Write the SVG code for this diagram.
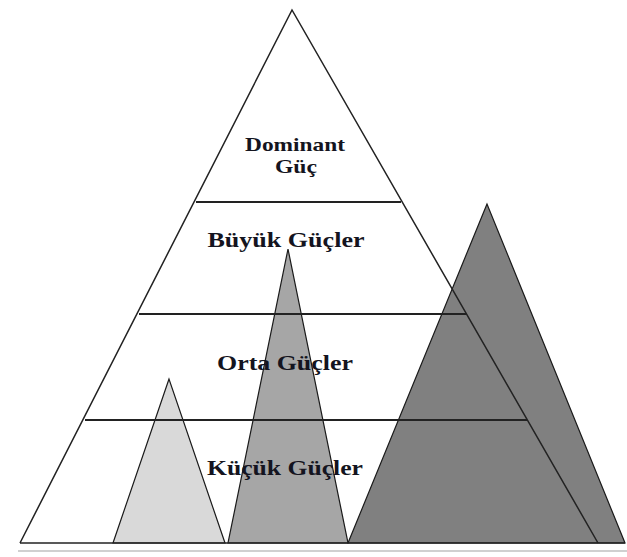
<svg xmlns="http://www.w3.org/2000/svg" width="627" height="557" viewBox="0 0 627 557">
<style>
.tri{stroke:#1a1a1a;stroke-width:1.2;stroke-linejoin:miter}
.edge{fill:none;stroke:#222;stroke-width:1.5}
.band{stroke:#222;stroke-width:2}
.lbl{font-family:"Liberation Serif","Times New Roman",serif;font-weight:bold;fill:#141420;text-anchor:middle}
</style>
<rect width="627" height="557" fill="#fff"/>
<g id="small-powers-triangle">
<polygon class="tri" points="169,379 113,543 225,543" fill="#d9d9d9"/>
</g>
<g id="middle-powers-triangle">
<polygon class="tri" points="288,249 228,543 348,543" fill="#a6a6a6"/>
</g>
<g id="great-powers-triangle">
<polygon class="tri" points="487,204 348,543 625,543" fill="#808080"/>
</g>
<g id="pyramid">
<polyline class="edge" points="20,543 292,10 598,543"/>
<line class="edge" x1="20" y1="543" x2="625" y2="543"/>
<line class="band" x1="196" y1="202" x2="401" y2="202"/>
<line class="band" x1="139" y1="314" x2="467" y2="314"/>
<line class="band" x1="85" y1="420" x2="527" y2="420"/>
</g>
<line x1="18" y1="551" x2="627" y2="551" stroke="#d0d0d0" stroke-width="2"/>
<g id="labels">
<text class="lbl" x="295" y="151" font-size="19" textLength="100" lengthAdjust="spacingAndGlyphs">Dominant</text>
<text class="lbl" x="296" y="173" font-size="19" textLength="42" lengthAdjust="spacingAndGlyphs">Güç</text>
<text class="lbl" x="286" y="247" font-size="22" textLength="157" lengthAdjust="spacingAndGlyphs">Büyük Güçler</text>
<text class="lbl" x="285" y="370" font-size="22" textLength="136" lengthAdjust="spacingAndGlyphs">Orta Güçler</text>
<text class="lbl" x="285" y="475" font-size="22" textLength="156" lengthAdjust="spacingAndGlyphs">Küçük Güçler</text>
</g>
</svg>
